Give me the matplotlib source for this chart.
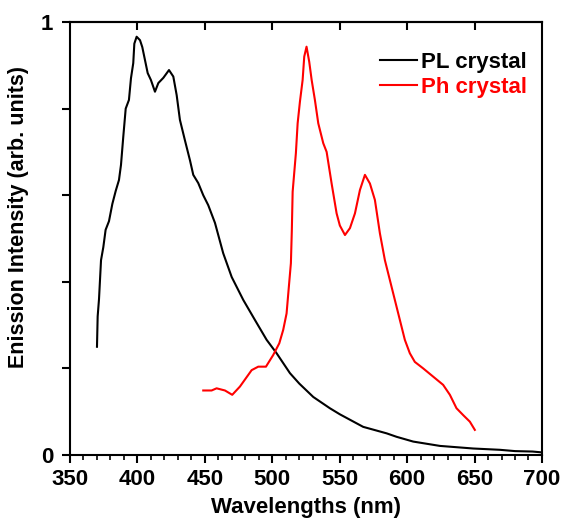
import matplotlib
matplotlib.use("Agg")
import matplotlib.pyplot as plt
from matplotlib.ticker import MultipleLocator, FixedLocator

plt.rcParams['font.family'] = ['Liberation Sans', 'DejaVu Sans']
plt.rcParams['font.weight'] = 'bold'

# PL crystal (black)
pl_wl = [370, 370.5, 371.5, 373, 374.7, 376.4, 378.9, 381.4, 383.9, 386.3,
         387.8, 389.5, 391.3, 393.7, 395.2, 396.9, 397.7, 399.4, 401.9, 403.6,
         405.6, 407.6, 410, 413, 415.5, 419.2, 423.4, 426.6, 429.1, 431.5,
         435.2, 439, 441.4, 445.1, 448.8, 452.5, 457.5, 463.6, 469.9, 478.5,
         487.1, 495.8, 503.2, 513.1, 520, 530.4, 542.7, 550.1, 567.4, 584.8,
         592.2, 604.5, 624.3, 649, 668.8, 680, 693, 700]
pl_int = [0.25, 0.32, 0.36, 0.45, 0.48, 0.52, 0.54, 0.58, 0.61, 0.635,
          0.67, 0.735, 0.80, 0.82, 0.87, 0.905, 0.95, 0.966, 0.958, 0.942,
          0.912, 0.882, 0.866, 0.839, 0.859, 0.871, 0.889, 0.874, 0.831, 0.774,
          0.727, 0.68, 0.647, 0.628, 0.60, 0.577, 0.536, 0.466, 0.411, 0.358,
          0.312, 0.266, 0.235, 0.189, 0.165, 0.134, 0.108, 0.094, 0.065, 0.05,
          0.042, 0.031, 0.021, 0.015, 0.012, 0.009, 0.008, 0.006]

# Ph crystal (red)
ph_wl = [448.8, 455, 458.7, 464.9, 470.3, 476, 484.7, 489.6, 495.3, 500.7,
         505.2, 508.1, 510.6, 512.3, 513.8, 514.5, 515.1, 517.5, 518.8, 520.5,
         522.5, 523.7, 525.4, 527.4, 529.2, 531.6, 534.1, 537.8, 540.3, 544,
         547.7, 550.1, 553.9, 557.6, 561.3, 565, 568.7, 572.4, 576.1, 579.8,
         583.5, 587.2, 590.9, 594.6, 598.3, 602, 605.7, 611.9, 619.3, 626.7,
         631.7, 636.6, 641.6, 646.5, 650.2]
ph_int = [0.149, 0.149, 0.154, 0.149, 0.139, 0.158, 0.196, 0.204, 0.204, 0.231,
          0.258, 0.289, 0.327, 0.389, 0.443, 0.52, 0.608, 0.697, 0.766, 0.816,
          0.866, 0.92, 0.943, 0.908, 0.866, 0.82, 0.766, 0.72, 0.70, 0.627,
          0.558, 0.530, 0.508, 0.524, 0.558, 0.612, 0.647, 0.627, 0.589, 0.512,
          0.45, 0.404, 0.358, 0.312, 0.266, 0.235, 0.215, 0.20, 0.181, 0.162,
          0.139, 0.108, 0.092, 0.077, 0.058]

fig = plt.figure(figsize=(5.61, 5.20), dpi=100)
ax = fig.add_axes([0.1248, 0.125, 0.8413, 0.8327])

ax.plot(pl_wl, pl_int, color='black', lw=1.5, label='PL crystal')
ax.plot(ph_wl, ph_int, color='red', lw=1.5, label='Ph crystal')

ax.set_xlim(350, 700)
ax.set_ylim(0, 1)

for s in ax.spines.values():
    s.set_linewidth(1.5)

# bottom: labels every 50, minor every 10, ticks outward
ax.xaxis.set_major_locator(MultipleLocator(50))
ax.xaxis.set_minor_locator(MultipleLocator(10))
ax.tick_params(axis='x', which='major', direction='out', length=6, width=1.5,
               labelsize=16, pad=4)
ax.tick_params(axis='x', which='minor', direction='out', length=3.5, width=1.2)

# left: only 0 and 1 labelled, ticks every 0.2
ax.yaxis.set_major_locator(FixedLocator([0, 1]))
ax.yaxis.set_minor_locator(FixedLocator([0.2, 0.4, 0.6, 0.8]))
ax.tick_params(axis='y', which='both', direction='out', length=6, width=1.5,
               labelsize=16, pad=6)

# top ticks inward, no labels
top = ax.secondary_xaxis('top')
top.set_xticks([400, 450, 500, 550, 600, 650])
top.tick_params(direction='in', length=6, width=1.5, labeltop=False)
top.spines['top'].set_linewidth(1.5)

ax.set_xlabel('Wavelengths (nm)', fontsize=16, fontweight='bold', labelpad=5)
ax.set_ylabel('Enission Intensity (arb. units)', fontsize=15.5, fontweight='bold')
ax.yaxis.set_label_coords(-0.087, 0.55)

ax.legend(loc='upper right', bbox_to_anchor=(1.01, 0.978), frameon=False,
          handlelength=1.7, handletextpad=0.15, labelspacing=0.2,
          labelcolor='linecolor', prop={'weight': 'bold', 'size': 16})

fig.savefig('out.png', dpi=100)
